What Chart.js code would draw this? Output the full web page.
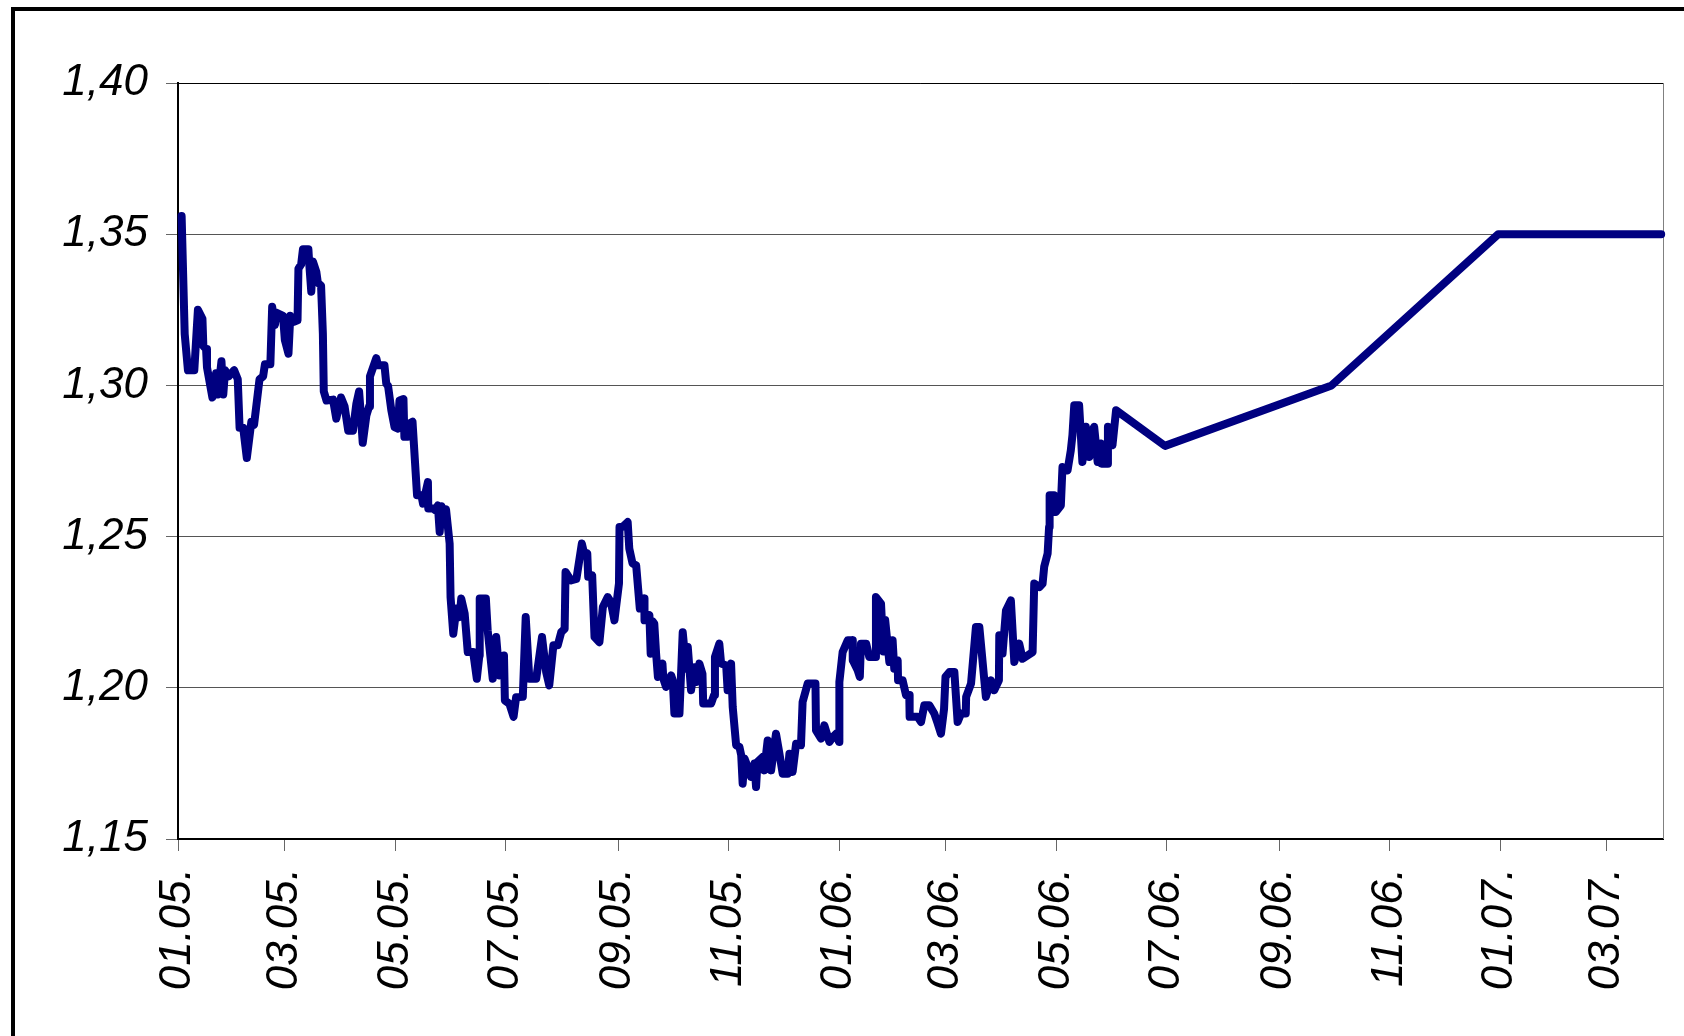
<!DOCTYPE html>
<html>
<head>
<meta charset="utf-8">
<script src="https://cdn.jsdelivr.net/npm/chart.js@4/dist/chart.umd.min.js"></script>
<style>
  html, body { margin: 0; padding: 0; background: #fff; overflow: hidden; }
  #wrap { position: relative; width: 1684px; height: 1036px; }
  #frame { position: absolute; left: 11px; top: 7px; width: 1800px; height: 1200px;
           border-left: 4px solid #000; border-top: 4px solid #000; box-sizing: border-box; }
  canvas { position: absolute; left: 0; top: 0; }
</style>
</head>
<body>
<div id="wrap">
  <div id="frame"></div>
  <canvas id="c" width="1684" height="1036"></canvas>
</div>
<script>
// x = days since 01.01.2005 (EUR/USD daily rate, then quarterly forecast points)
const days = [
  2, 3.7, 5.5, 9, 11, 13.5, 14, 15.5, 16, 19, 21, 22, 24, 25, 26, 28, 31, 33, 34, 36,
  38, 40.5, 42, 45, 47, 48, 51, 52, 53.5, 54.5, 58, 59, 61, 62, 64, 66, 66.5, 68, 69, 72,
  72.5, 73.6, 74.5, 76.4, 77.2, 79, 80, 80.5, 82, 85.6, 87.4, 90, 92, 94, 96.6, 98.5, 100, 101, 102, 104,
  105.5, 106, 109.5, 110.4, 114, 115, 116, 117.8, 119.6, 121.4, 122.3, 124.5, 125, 127, 128, 129.5, 132, 134.4, 135.3, 138,
  138.2, 141, 142, 143.5, 144.5, 145.5, 146.5, 148, 150, 150.5, 152, 153.7, 155.5, 156.4, 158.3, 160, 163, 165, 166.4, 166.6,
  170, 171, 173.8, 175.7, 177.5, 180, 180.5, 183, 185.3, 186.7, 190.4, 192, 194, 197.8, 201, 203.3, 205, 207.3, 209.7, 211.6,
  213.5, 214, 217, 220, 223, 224.5, 226, 226.5, 228.7, 230, 232.7, 234.6, 237.3, 239, 241, 243.5, 243.8, 245.5, 248.3, 249.2,
  251, 253, 255, 256, 257.5, 257.6, 260.3, 261, 262, 263, 264, 265, 267.5, 268, 269.5, 272.3, 273.2, 274.1, 276.9, 278.7,
  280.6, 281.5, 283.3, 285.2, 286.1, 287.9, 289.6, 290, 294.4, 296, 296.5, 298.9, 299.9, 302.7, 303.5, 305.4, 306.3, 308.2, 310, 311,
  311.8, 312.8, 314.6, 316.4, 318.3, 319.2, 320, 322.8, 323.7, 325.6, 327.5, 330.2, 332.1, 333.9, 336.7, 337.6, 339.4, 341.3, 344, 344.9,
  347.7, 352, 352.3, 355.1, 356.9, 359.7, 361.6, 363.4, 365, 365.2, 367, 369.8, 372.5, 372.6, 375.3, 376.5, 377.1, 380, 381.7, 385.2,
  385.4, 388.2, 389.5, 390.5, 392.8, 394.6, 395.5, 397.4, 397.6, 400.1, 402, 403.8, 404, 408.4, 410.3, 412.1, 414.9, 417.6, 419.5, 421.3,
  423, 423.8, 426, 428.7, 430.5, 432.4, 435, 435.2, 437.9, 440.6, 442.5, 446.1, 448.9, 450.7, 453.3, 453.5, 455.3, 457.2, 459.9, 461.8,
  464.5, 466.4, 471.9, 472.8, 475.6, 477.4, 478.3, 480.2, 481, 481.3, 483.8, 484.7, 487.5, 488.4, 491.2, 493, 493.9, 494.9, 497.6, 499.4,
  501.3, 503.2, 504, 505.9, 507.8, 509.6, 510, 513.3, 513.5, 516, 518,
  545, 637, 729, 819
];
const rates = [
  1.356, 1.317, 1.305, 1.305, 1.325, 1.322, 1.313, 1.312, 1.306, 1.296, 1.304, 1.297, 1.308, 1.297, 1.305, 1.303, 1.305, 1.302, 1.286, 1.286,
  1.276, 1.288, 1.287, 1.302, 1.303, 1.307, 1.307, 1.326, 1.320, 1.324, 1.323, 1.315, 1.3105, 1.323, 1.321, 1.3215, 1.3386, 1.340, 1.345, 1.345,
  1.340, 1.331, 1.341, 1.3375, 1.334, 1.333, 1.317, 1.298, 1.295, 1.2953, 1.289, 1.296, 1.293, 1.285, 1.285, 1.294, 1.298, 1.290, 1.281, 1.290,
  1.293, 1.303, 1.309, 1.3067, 1.3067, 1.3006, 1.2998, 1.2918, 1.2862, 1.2857, 1.295, 1.2955, 1.283, 1.283, 1.2875, 1.288, 1.2637, 1.2637, 1.2609, 1.268,
  1.2593, 1.2593, 1.2587, 1.2603, 1.2515, 1.260, 1.2565, 1.259, 1.2477, 1.230, 1.2179, 1.2262, 1.2234, 1.2295, 1.2245, 1.2118, 1.2118, 1.203, 1.2107, 1.2295,
  1.2295, 1.219, 1.203, 1.2168, 1.2041, 1.2107, 1.1958, 1.1947, 1.1904, 1.1969, 1.197, 1.2234, 1.203, 1.203, 1.2168, 1.2052, 1.2008, 1.2141, 1.2141, 1.2184,
  1.2195, 1.2383, 1.2355, 1.236, 1.2477, 1.2438, 1.2444, 1.2367, 1.2372, 1.2168, 1.2151, 1.2267, 1.230, 1.2284, 1.2223, 1.2345, 1.2532, 1.2532, 1.2548, 1.246,
  1.2411, 1.2405, 1.2262, 1.2295, 1.2295, 1.2223, 1.224, 1.2113, 1.222, 1.2212, 1.2113, 1.2036, 1.208, 1.203, 1.2003, 1.2041, 1.2025, 1.1915, 1.1915, 1.2184,
  1.2063, 1.2135, 1.1992, 1.2068, 1.2019, 1.208, 1.2046, 1.1948, 1.1948, 1.1976, 1.2102, 1.2146, 1.208, 1.2074, 1.1992, 1.208, 1.1937, 1.181, 1.1805, 1.1777,
  1.1683, 1.1766, 1.1738, 1.1705, 1.1749, 1.1672, 1.1755, 1.1771, 1.1727, 1.1826, 1.1727, 1.1848, 1.1782, 1.1716, 1.1716, 1.1782, 1.1722, 1.1815, 1.181, 1.1953,
  1.2014, 1.2014, 1.1859, 1.1832, 1.1876, 1.1821, 1.1837, 1.1848, 1.1821, 1.2019, 1.2118, 1.2157, 1.2157, 1.2091, 1.2058, 1.2036, 1.2146, 1.2146, 1.2102, 1.2102,
  1.230, 1.2278, 1.212, 1.2224, 1.2085, 1.2157, 1.2063, 1.2091, 1.2025, 1.2025, 1.1976, 1.1976, 1.1904, 1.1904, 1.1887, 1.1942, 1.1942, 1.1915, 1.1882, 1.1848,
  1.1930, 1.2036, 1.2052, 1.2052, 1.1887, 1.1915, 1.1915, 1.197, 1.2014, 1.2201, 1.2201, 1.197, 1.2025, 1.1992, 1.2025, 1.2174, 1.2113, 1.2256, 1.2289, 1.2085,
  1.2146, 1.2096, 1.2118, 1.2345, 1.2333, 1.2344, 1.24, 1.2444, 1.2532, 1.2637, 1.2637, 1.2581, 1.2603, 1.273, 1.2719, 1.2785, 1.2835, 1.2934, 1.2934, 1.2747,
  1.2863, 1.2763, 1.2835, 1.2863, 1.2747, 1.2808, 1.2741, 1.2741, 1.2863, 1.2802, 1.2918,
  1.28, 1.30, 1.35, 1.35
];
// bimonthly tick positions (days since 01.01.2005) and their labels
const xTickDays = [0, 59, 120, 181, 243, 304, 365, 424, 485, 546, 608, 669, 730, 789];
const xTickLabels = ['01.05.', '03.05.', '05.05.', '07.05.', '09.05.', '11.05.', '01.06.',
                     '03.06.', '05.06.', '07.06.', '09.06.', '11.06.', '01.07.', '03.07.'];
const yTicks = [1.15, 1.20, 1.25, 1.30, 1.35, 1.40];
const xMin = 0, xMax = 820;

const points = days.map((d, i) => ({ x: d, y: rates[i] }));
const labelFont = { family: '"Liberation Sans", Arial, sans-serif', size: 44, style: 'italic' };

const plotFrame = {
  id: 'plotFrame',
  beforeDatasetsDraw(chart) {
    const { ctx, chartArea: a } = chart;
    ctx.save();
    ctx.strokeStyle = '#808080';
    ctx.lineWidth = 1;
    ctx.beginPath();
    ctx.moveTo(Math.round(a.right) + 0.5, a.top);
    ctx.lineTo(Math.round(a.right) + 0.5, a.bottom);
    ctx.stroke();
    ctx.strokeStyle = '#000';
    ctx.beginPath();
    ctx.moveTo(a.left, Math.round(a.top) + 0.5);
    ctx.lineTo(a.right, Math.round(a.top) + 0.5);
    ctx.stroke();
    ctx.restore();
  }
};

new Chart(document.getElementById('c'), {
  type: 'line',
  data: {
    datasets: [{
      data: points,
      borderColor: '#000080',
      backgroundColor: '#000080',
      borderWidth: 8,
      pointRadius: 0,
      tension: 0,
      borderJoinStyle: 'round',
      borderCapStyle: 'round',
      fill: false,
      clip: 6
    }]
  },
  options: {
    responsive: false,
    animation: false,
    devicePixelRatio: 1,
    layout: { padding: { top: 83, right: 21, left: 0, bottom: 0 } },
    plugins: { legend: { display: false }, tooltip: { enabled: false } },
    scales: {
      x: {
        type: 'linear',
        min: xMin,
        max: xMax,
        afterBuildTicks: (s) => { s.ticks = xTickDays.map(v => ({ value: v })); },
        afterFit: (s) => { s.height = 197; },
        ticks: {
          autoSkip: false,
          minRotation: 90,
          maxRotation: 90,
          padding: 17,
          color: '#000',
          font: labelFont,
          callback: (v, i) => xTickLabels[i]
        },
        grid: { drawOnChartArea: false, drawTicks: true, tickLength: 12, color: '#666', tickColor: '#666', lineWidth: 1 },
        border: { color: '#000', width: 2 }
      },
      y: {
        min: 1.15,
        max: 1.40,
        afterBuildTicks: (s) => { s.ticks = yTicks.map(v => ({ value: v })); },
        afterFit: (s) => { s.width = 178; },
        ticks: {
          padding: 18,
          color: '#000',
          font: labelFont,
          callback: (v) => Number(v).toFixed(2).replace('.', ',')
        },
        grid: { color: '#555', tickColor: '#666', tickLength: 12, lineWidth: 1 },
        border: { color: '#000', width: 2 }
      }
    }
  },
  plugins: [plotFrame]
});
</script>
</body>
</html>
